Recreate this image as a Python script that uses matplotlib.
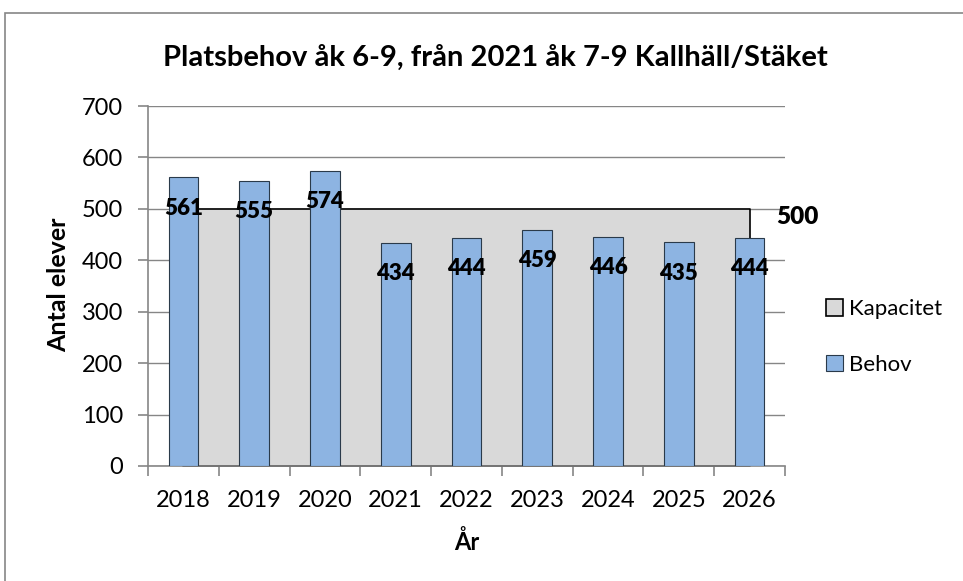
import numpy as np
import matplotlib.pyplot as plt
from matplotlib.patches import Rectangle

plt.rcParams['font.family'] = ['Lato', 'DejaVu Sans']

# data
years = ['2018', '2019', '2020', '2021', '2022', '2023', '2024', '2025', '2026']
behov = [561, 555, 574, 434, 444, 459, 446, 435, 444]
kapacitet = [500, 500, 500, 500, 500, 500, 500, 500, 500]

grey = '#868686'
x = np.arange(len(years))

fig = plt.figure(figsize=(9.63, 5.81), dpi=100)
# chart frame
fig.patches.append(Rectangle((5 / 963, -0.01), 1.0, 1 - 13 / 581 + 0.01,
                             transform=fig.transFigure, fill=False,
                             edgecolor=grey, linewidth=1.2))

ax = fig.add_axes([148 / 963, 1 - 466 / 581, 637 / 963, 360 / 581])

# kapacitet as an area, behov as bars on top
ax.fill_between(x, 0, kapacitet, facecolor='#D9D9D9', edgecolor='black',
                linewidth=1.2, zorder=2, label='Kapacitet')
bars = ax.bar(x, behov, width=0.42, color='#8DB4E2', edgecolor='#2a3a4a',
              linewidth=0.8, zorder=3, label='Behov')

for xi, v in zip(x, behov):
    ax.annotate(str(v), (xi, v), xytext=(0, -31), textcoords='offset pixels',
                ha='center', va='center', fontsize=16, fontweight='heavy', zorder=4)
ax.annotate(str(kapacitet[-1]), (x[-1], kapacitet[-1]), xytext=(48, -8),
            textcoords='offset pixels', ha='center', va='center',
            fontsize=17.5, fontweight='heavy', zorder=4)

ax.set_xlim(-0.5, len(years) - 0.5)
ax.set_ylim(0, 700)
ax.set_yticks(range(0, 701, 100))
ax.yaxis.grid(True, color=grey, linewidth=1)
ax.set_axisbelow(True)

ax.set_xticks(x)
ax.set_xticklabels(years)
ax.set_xticks(np.arange(-0.5, len(years), 1), minor=True)
ax.tick_params(axis='x', which='major', length=0, pad=17, labelsize=17)
ax.tick_params(axis='x', which='minor', length=7, width=1.2, color=grey, direction='out')
ax.tick_params(axis='y', length=7, width=1.2, color=grey, labelsize=17, pad=11)

for s in ['top', 'right']:
    ax.spines[s].set_visible(False)
for s in ['left', 'bottom']:
    ax.spines[s].set_color(grey)
    ax.spines[s].set_linewidth(1.2)

ax.set_xlabel('År', fontsize=17, fontweight='bold', labelpad=14)
ax.set_ylabel('Antal elever', fontsize=18, fontweight='bold')
ax.yaxis.set_label_coords((70 - 148) / 637, (466 - 285) / 360)
fig.text(495 / 963, 1 - 58 / 581, 'Platsbehov åk 6-9, från 2021 åk 7-9 Kallhäll/Stäket',
         ha='center', va='center', fontsize=21, fontweight='bold')

fig.legend(loc='center left', bbox_to_anchor=(806 / 963, 1 - 337 / 581), frameon=False,
           fontsize=16, handlelength=0.75, handleheight=0.75, handletextpad=0.3,
           labelspacing=1.6)

fig.savefig('out.png', dpi=100)
